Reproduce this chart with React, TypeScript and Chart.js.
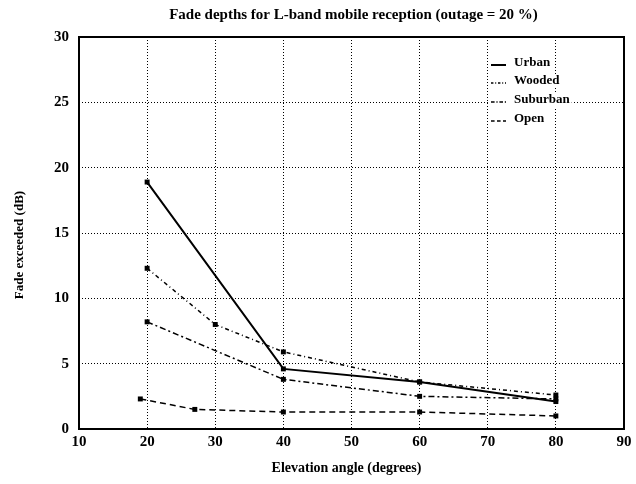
import React, { useEffect, useRef } from "react";
import { Chart, registerables } from "chart.js";

Chart.register(...registerables);

const TITLE = "Fade depths for L-band mobile reception (outage = 20 %)";
const X_TITLE = "Elevation angle (degrees)";
const Y_TITLE = "Fade exceeded (dB)";

const SERIES_NAMES = ["Urban", "Wooded", "Suburban", "Open"];

const URBAN_X = [20, 40, 60, 80];
const URBAN_Y = [18.9, 4.6, 3.6, 2.1];

const WOODED_X = [20, 30, 40, 60, 80];
const WOODED_Y = [12.3, 8.0, 5.9, 3.6, 2.6];

const SUBURBAN_X = [20, 40, 60, 80];
const SUBURBAN_Y = [8.2, 3.8, 2.5, 2.3];

const OPEN_X = [19, 27, 40, 60, 80];
const OPEN_Y = [2.3, 1.5, 1.3, 1.3, 1.0];

const X_MIN = 10, X_MAX = 90, X_STEP = 10;
const Y_MIN = 0, Y_MAX = 30, Y_STEP = 5;

const DASHES: number[][] = [[], [4, 3, 1, 3], [6, 3, 2, 3], [6, 4]];
const WIDTHS = [2, 1.5, 1.5, 1.5];

const FONT = "'Liberation Serif', 'DejaVu Serif', serif";

const toPts = (xs: number[], ys: number[]) => xs.map((x, i) => ({ x, y: ys[i] }));

const framePlugin = {
  id: "frameAndText",
  afterDraw(chart: any) {
    const { ctx, chartArea } = chart;
    const { left, right, top, bottom } = chartArea;
    ctx.save();
    ctx.strokeStyle = "#000";
    ctx.lineWidth = 2;
    ctx.setLineDash([]);
    ctx.strokeRect(left, top, right - left, bottom - top);

    ctx.fillStyle = "#000";
    ctx.textAlign = "center";
    ctx.textBaseline = "middle";
    ctx.font = `bold 15px ${FONT}`;
    ctx.fillText(TITLE, (left + right) / 2 + 2, 15);
    ctx.font = `bold 14px ${FONT}`;
    ctx.fillText(X_TITLE, (left + right) / 2 - 5, 468);
    ctx.font = `bold 13px ${FONT}`;
    ctx.save();
    ctx.translate(20, 245);
    ctx.rotate(-Math.PI / 2);
    ctx.fillText(Y_TITLE, 0, 0);
    ctx.restore();

    // legend
    const lx0 = 491, lx1 = 506, tx = 514;
    const ys = [63, 81, 100, 119];
    ctx.font = `bold 13px ${FONT}`;
    ctx.textAlign = "left";
    SERIES_NAMES.forEach((name, i) => {
      ctx.fillStyle = "#fff";
      const w = ctx.measureText(name).width;
      ctx.fillRect(lx0 - 2, ys[i] - 7, tx + w - lx0 + 4, 14);
      ctx.strokeStyle = "#000";
      ctx.lineWidth = WIDTHS[i];
      ctx.setLineDash(DASHES[i].map((d) => Math.max(1, d * 0.6)));
      ctx.beginPath();
      ctx.moveTo(lx0, ys[i] + 2);
      ctx.lineTo(lx1, ys[i] + 2);
      ctx.stroke();
      ctx.setLineDash([]);
      ctx.fillStyle = "#000";
      ctx.fillText(name, tx, ys[i]);
    });
    ctx.restore();
  },
};

export default function App() {
  const ref = useRef<HTMLCanvasElement>(null);

  useEffect(() => {
    document.body.style.margin = "0";
    const all = [
      toPts(URBAN_X, URBAN_Y),
      toPts(WOODED_X, WOODED_Y),
      toPts(SUBURBAN_X, SUBURBAN_Y),
      toPts(OPEN_X, OPEN_Y),
    ];
    const chart = new Chart(ref.current!, {
      type: "line",
      data: {
        datasets: SERIES_NAMES.map((name, i) => ({
          label: name,
          data: all[i],
          borderColor: "#000",
          backgroundColor: "#000",
          borderWidth: WIDTHS[i],
          borderDash: DASHES[i],
          pointStyle: "rect",
          pointRadius: 3.5,
          pointBorderWidth: 0,
          tension: 0,
          fill: false,
        })),
      },
      plugins: [framePlugin],
      options: {
        responsive: false,
        animation: false,
        events: [],
        layout: { padding: { top: 37, right: 12, left: 0, bottom: 0 } },
        plugins: { legend: { display: false }, title: { display: false }, tooltip: { enabled: false } },
        scales: {
          x: {
            type: "linear",
            min: X_MIN,
            max: X_MAX,
            ticks: {
              stepSize: X_STEP,
              color: "#000",
              font: { family: FONT, size: 15, weight: "bold" },
              padding: 4,
              maxRotation: 0,
            },
            grid: { color: "#000", lineWidth: 1, drawTicks: false },
            border: { display: false, dash: [1, 2] },
            afterFit: (s: any) => { s.height = 55; },
          },
          y: {
            type: "linear",
            min: Y_MIN,
            max: Y_MAX,
            ticks: {
              stepSize: Y_STEP,
              color: "#000",
              font: { family: FONT, size: 15, weight: "bold" },
              padding: 10,
            },
            grid: { color: "#000", lineWidth: 1, drawTicks: false },
            border: { display: false, dash: [1, 2] },
            afterFit: (s: any) => { s.width = 79; },
          },
        },
      } as any,
    });
    return () => chart.destroy();
  }, []);

  return (
    <div style={{ position: "absolute", left: 0, top: 0, width: 636, height: 484, background: "#fff" }}>
      <canvas ref={ref} width={636} height={484} style={{ width: 636, height: 484 }} />
    </div>
  );
}
